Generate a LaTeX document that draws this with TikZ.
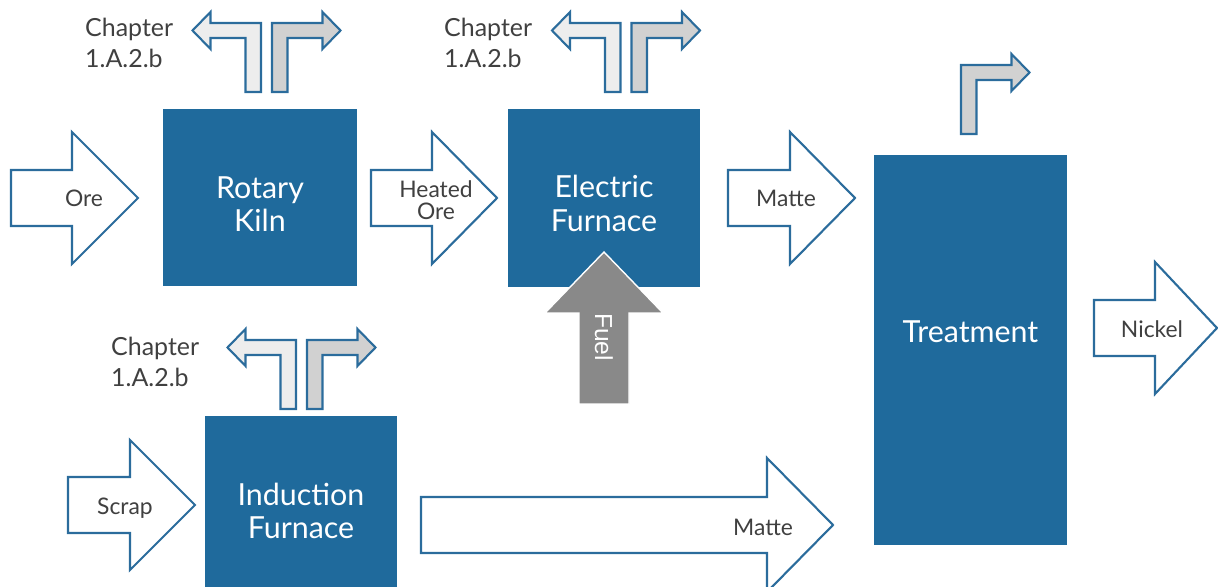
\documentclass[tikz,border=0pt]{standalone}
\usepackage{fontspec}
\setmainfont{Lato}
\newfontfamily\fuelfont{Liberation Sans}
\usepackage{tikz}
\usetikzlibrary{positioning}
\usepackage{xcolor}
\definecolor{boxblue}{HTML}{1F6A9C}
\definecolor{edgeblue}{HTML}{2B6C9C}
\definecolor{lightgrey}{HTML}{EDEDED}
\definecolor{midgrey}{HTML}{D1D1D1}
\definecolor{fuelgrey}{HTML}{898989}
\definecolor{labelgrey}{HTML}{404040}

\tikzset{
  box/.style={fill=boxblue, inner sep=0pt},
  boxtext/.style={white, align=center, font=\fontsize{17.3}{19}\selectfont},
  flow/.style={draw=edgeblue, line width=1.2pt, fill=white, line join=miter},
  flowtext/.style={labelgrey, align=center, font=\fontsize{13}{12.5}\selectfont},
  chaptext/.style={labelgrey, align=left, anchor=west, font=\fontsize{14.2}{17.5}\selectfont},
  leftL/.pic={\draw[flow, fill=lightgrey] (-5.5,0) -- (-5.5,-69) -- (-56,-69) -- (-56,-80) -- (-74,-61.5) -- (-56,-43) -- (-56,-54) -- (-21,-54) -- (-21,0) -- cycle;},
  rightL/.pic={\draw[flow, fill=midgrey] (5.5,0) -- (5.5,-69) -- (56,-69) -- (56,-80) -- (74,-61.5) -- (56,-43) -- (56,-54) -- (21,-54) -- (21,0) -- cycle;},
  splitpair/.pic={\pic {leftL}; \pic {rightL};}
}

% block arrow: shaft left, head base, tip, centre y, head half width
\newcommand{\blockarrow}[5]{%
  \draw[flow] (#1,#4-28) -- (#2,#4-28) -- (#2,#4-#5) -- (#3,#4) -- (#2,#4+#5) -- (#2,#4+28) -- (#1,#4+28) -- cycle;}

\begin{document}
\begin{tikzpicture}[x=0.02cm, y=-0.02cm]
        \useasboundingbox (0,0) rectangle (1218,587);

        % Boxes
        \node[box, minimum width=3.88cm, minimum height=3.54cm] (kiln) at (260,197.5) {};
        \node[boxtext] (kilnlbl) at (260,204) {Rotary\\Kiln};
        \node[box, minimum width=3.84cm, minimum height=3.56cm] (electric) at (604,198) {};
        \node[box, minimum width=3.84cm, minimum height=3.8cm] (induction) at (301,511) {};
        \node[boxtext] (inductionlbl) at (301,511) {Induction\\Furnace};
        \node[box, minimum width=3.86cm, minimum height=7.8cm] (treat) at (970.5,350) {};
        \node[boxtext] (treatlbl) at (970.5,332) {Treatment};

        % Fuel
        \draw[fill=fuelgrey, draw=white, line width=0.8pt] (579,404) -- (579,313) -- (545,313) -- (604,252) -- (663,313) -- (629,313) -- (629,404) -- cycle;
        \node[boxtext] (electriclbl) at (604,203.5) {Electric\\Furnace};
        \node[white, rotate=-90, font=\fuelfont\fontsize{14}{14}\selectfont] (fuel) at (604,337) {Fuel};

        % Flows
        \blockarrow{11}{72}{138}{198}{66}
        \node[flowtext] (ore) at (84,198) {Ore};
        \blockarrow{371}{432}{497}{198}{66}
        \node[flowtext] (heated) at (436,200) {Heated\\Ore};
        \blockarrow{728}{790}{855}{198}{66}
        \node[flowtext] (matte1) at (786,198) {Matte};
        \blockarrow{1094}{1155}{1217}{328}{66}
        \node[flowtext] (nickel) at (1152,329) {Nickel};
        \blockarrow{68}{130}{195}{505}{65}
        \node[flowtext] (scrap) at (125,508) {Scrap};
        \blockarrow{421}{767}{833}{525}{67}
        \node[flowtext] (matte2) at (763,527) {Matte};

        % Emissions
        \pic at (266.5,92) {splitpair};
        \pic at (626,92) {splitpair};
        \pic at (301.5,409) {splitpair};
        \pic at (955.5,134) {rightL};

        \node[chaptext] (chap1) at (79,43) {Chapter\\1.A.2.b};
        \node[chaptext] (chap2) at (438,43) {Chapter\\1.A.2.b};
        \node[chaptext] (chap3) at (105,362) {Chapter\\1.A.2.b};
\end{tikzpicture}
\end{document}
